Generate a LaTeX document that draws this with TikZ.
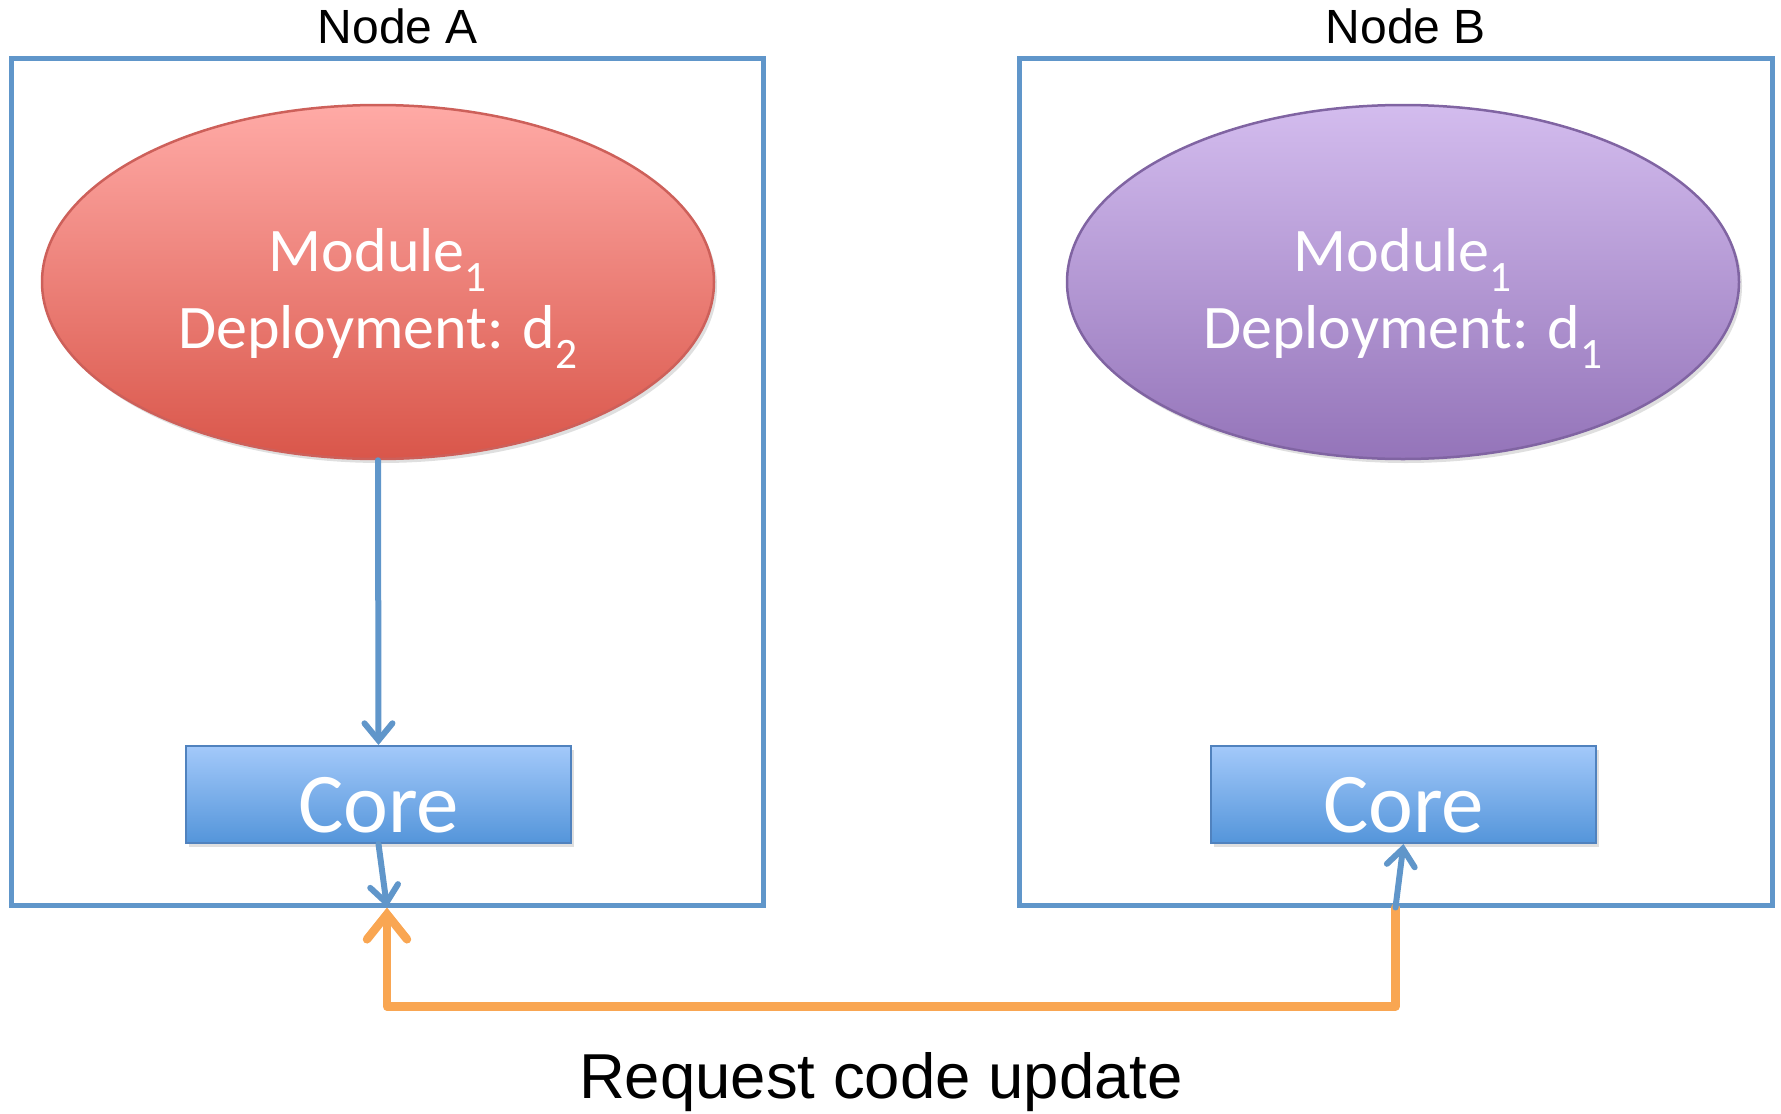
\documentclass[tikz,border=0pt]{standalone}
\usepackage{fontspec}
\setmainfont{Liberation Sans}
\newfontfamily\calibri{Carlito}
\usetikzlibrary{arrows.meta,shapes.geometric,shadows}
\definecolor{frameblue}{RGB}{96,150,202}
\definecolor{redtop}{RGB}{255,170,166}
\definecolor{redbot}{RGB}{217,86,74}
\definecolor{redline}{RGB}{205,96,90}
\definecolor{purptop}{RGB}{211,188,238}
\definecolor{purpbot}{RGB}{148,116,185}
\definecolor{purpline}{RGB}{128,100,162}
\definecolor{coretop}{RGB}{163,201,250}
\definecolor{corebot}{RGB}{84,149,218}
\definecolor{coreline}{RGB}{80,130,190}
\definecolor{reqorange}{RGB}{249,166,82}
\begin{document}
\begin{tikzpicture}[x=1pt,y=-1pt,
  frame/.style={draw=frameblue, line width=5pt, minimum width=752pt, minimum height=847pt, inner sep=0pt},
  title/.style={font=\fontsize{48}{56}\selectfont, text=black},
  modell/.style={ellipse, line width=2.5pt, minimum width=672pt, minimum height=354pt, inner sep=0pt,
    text=white, align=center, font=\calibri\fontsize{62}{77}\selectfont,
    drop shadow={shadow xshift=3pt, shadow yshift=-4pt, opacity=0.25}},
  corebox/.style={rectangle, draw=coreline, line width=2pt, top color=coretop, bottom color=corebot,
    minimum width=385pt, minimum height=97pt, inner sep=0pt, text=white,
    text height=76pt, text depth=0pt,
    font=\calibri\fontsize{85}{90}\selectfont,
    drop shadow={shadow xshift=3pt, shadow yshift=-4pt, opacity=0.25}},
  lineshadow/.style={preaction={draw=black, opacity=0.12, transform canvas={shift={(1.5pt,-2.5pt)}}}},
  bluearrow/.style={draw=frameblue, line width=6pt, line cap=round, lineshadow,
    -{Straight Barb[length=17pt,width=28pt,line cap=round]}},
  orangearrow/.style={draw=reqorange, line width=8.5pt, line cap=round, line join=round, lineshadow,
    -{Straight Barb[length=25pt,width=40pt,line cap=round]}}
]
\useasboundingbox (0,0) rectangle (1781,1114);

\node[frame] (boxA) at (387,481.5) {};
\node[frame, minimum width=753pt] (boxB) at (1395.5,481.5) {};

\node[title] (labA) at (398,26) {Node A};
\node[title] (labB) at (1406,26) {Node B};

\node[modell, draw=redline, top color=redtop, bottom color=redbot] (ellA) at (378,282)
  {\rule{0pt}{76pt}Module\textsubscript{1}\\Deployment: d\textsubscript{2}};
\node[modell, draw=purpline, top color=purptop, bottom color=purpbot] (ellB) at (1403,282)
  {\rule{0pt}{76pt}Module\textsubscript{1}\\Deployment: d\textsubscript{1}};

\node[corebox] (coreA) at (378.5,794.5) {Core};
\node[corebox] (coreB) at (1403.5,794.5) {Core};

\draw[bluearrow] (ellA.south) -- (coreA.north);
\draw[bluearrow] (coreA.south) -- (boxA.south);

\draw[orangearrow] (boxB.south) -- ++(0,99) -| (boxA.south);
\draw[bluearrow] (boxB.south) -- (coreB.south);

\node[font=\fontsize{63.5}{70}\selectfont] (req) at (881,1082) {Request code update};
\end{tikzpicture}
\end{document}
